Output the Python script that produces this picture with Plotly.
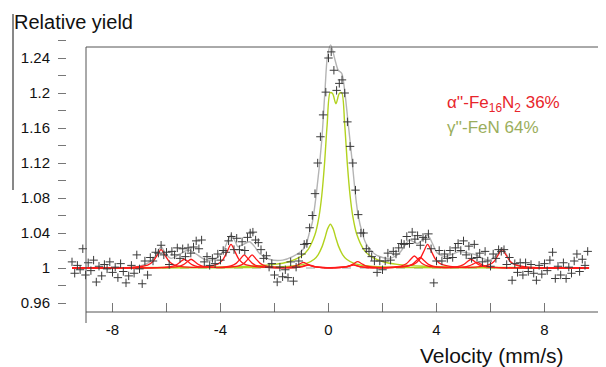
import plotly.graph_objects as go

# ---------------- data ----------------
velocity = [
    -9.5, -9.4, -9.3, -9.2, -9.1, -9.0, -8.9, -8.8, -8.7, -8.6,
    -8.5, -8.4, -8.3, -8.2, -8.1, -8.0, -7.9, -7.8, -7.7, -7.6,
    -7.5, -7.4, -7.3, -7.2, -7.1, -7.0, -6.9, -6.8, -6.7, -6.6,
    -6.5, -6.4, -6.3, -6.2, -6.1, -6.0, -5.9, -5.8, -5.7, -5.6,
    -5.5, -5.4, -5.3, -5.2, -5.1, -5.0, -4.9, -4.8, -4.7, -4.6,
    -4.5, -4.4, -4.3, -4.2, -4.1, -4.0, -3.9, -3.8, -3.7, -3.6,
    -3.5, -3.4, -3.3, -3.2, -3.1, -3.0, -2.9, -2.8, -2.7, -2.6,
    -2.5, -2.4, -2.3, -2.2, -2.1, -2.0, -1.9, -1.8, -1.7, -1.6,
    -1.5, -1.4, -1.3, -1.2, -1.1, -1.0, -0.9, -0.8, -0.7, -0.6,
    -0.5, -0.4, -0.3, -0.2, -0.1, 0.0, 0.1, 0.2, 0.3, 0.4,
    0.5, 0.6, 0.7, 0.8, 0.9, 1.0, 1.1, 1.2, 1.3, 1.4,
    1.5, 1.6, 1.7, 1.8, 1.9, 2.0, 2.1, 2.2, 2.3, 2.4,
    2.5, 2.6, 2.7, 2.8, 2.9, 3.0, 3.1, 3.2, 3.3, 3.4,
    3.5, 3.6, 3.7, 3.8, 3.9, 4.0, 4.1, 4.2, 4.3, 4.4,
    4.5, 4.6, 4.7, 4.8, 4.9, 5.0, 5.1, 5.2, 5.3, 5.4,
    5.5, 5.6, 5.7, 5.8, 5.9, 6.0, 6.1, 6.2, 6.3, 6.4,
    6.5, 6.6, 6.7, 6.8, 6.9, 7.0, 7.1, 7.2, 7.3, 7.4,
    7.5, 7.6, 7.7, 7.8, 7.9, 8.0, 8.1, 8.2, 8.3, 8.4,
    8.5, 8.6, 8.7, 8.8, 8.9, 9.0, 9.1, 9.2, 9.3, 9.4,
    9.5, 9.6,
]
measured_yield = [
    1.007, 0.994, 1.003, 0.998, 1.022, 0.992, 1.006, 0.997, 1.009, 0.984,
    1.002, 0.991, 1.004, 0.999, 1.007, 0.995, 1.001, 0.989, 1.005, 0.996,
    0.983, 0.991, 1.003, 0.994, 1.015, 0.999, 0.982, 1.008, 0.992, 1.012,
    1.008, 1.018, 1.017, 1.026, 1.015, 1.018, 1.004, 1.019, 1.015, 1.023,
    1.011, 1.022, 1.013, 1.023, 1.017, 1.024, 1.031, 1.022, 1.032, 1.007,
    1.013, 1.003, 1.011, 1.005, 1.016, 1.009, 1.020, 1.018, 1.031, 1.036,
    1.021, 1.034, 1.021, 1.030, 1.020, 1.035, 1.040, 1.041, 1.032, 1.029,
    1.021, 1.011, 1.014, 1.001, 1.005, 0.992, 0.984, 1.001, 0.990, 0.998,
    0.989, 1.007, 0.985, 1.001, 1.008, 1.016, 1.027, 1.028, 1.046, 1.060,
    1.085, 1.120, 1.150, 1.175, 1.201, 1.240, 1.247, 1.226, 1.203, 1.211,
    1.215, 1.200, 1.167, 1.139, 1.120, 1.089, 1.061, 1.040, 1.040, 1.022,
    1.019, 1.013, 1.008, 0.995, 1.008, 0.998, 1.008, 1.017, 1.009, 1.019,
    1.016, 1.023, 1.028, 1.027, 1.036, 1.028, 1.041, 1.033, 1.037, 1.026,
    1.035, 1.033, 1.039, 1.022, 0.983, 1.008, 1.020, 1.008, 1.016, 1.011,
    1.020, 1.012, 1.023, 1.028, 1.020, 1.031, 1.015, 1.025, 1.011, 1.027,
    1.012, 1.017, 1.007, 1.019, 1.008, 1.002, 1.016, 1.011, 1.021, 1.019,
    1.021, 1.004, 1.012, 0.986, 1.005, 0.995, 1.006, 0.992, 1.006, 0.996,
    1.004, 0.994, 0.986, 1.003, 0.993, 1.005, 0.997, 1.009, 1.018, 0.988,
    1.002, 0.992, 1.006, 0.988, 1.001, 0.994, 1.008, 1.016, 0.996, 1.010,
    1.003, 1.019,
]

# total fit (grey)
total_v = [-9.5, -8.0, -7.2, -6.8, -6.5, -6.35, -6.2, -6.05, -5.83, -5.5,
           -5.2, -4.95, -4.6, -4.35, -4.17, -3.9, -3.75, -3.61, -3.45, -3.36,
           -3.15, -2.93, -2.75, -2.56, -2.19, -1.70, -1.33, -0.96, -0.8, -0.71,
           -0.6, -0.45, -0.25, -0.13, -0.04, 0.08, 0.24, 0.36, 0.49, 0.61,
           0.73, 0.86, 1.0, 1.1, 1.25, 1.39, 1.76, 2.25, 2.62, 2.99,
           3.15, 3.3, 3.5, 3.67, 3.85, 4.04, 4.35, 4.6, 4.84, 5.21,
           5.46, 5.7, 5.96, 6.2, 6.43, 6.6, 6.75, 7.19, 7.6, 9.65]
total_y = [1.000, 1.000, 1.001, 1.004, 1.010, 1.017, 1.0244, 1.017, 1.011, 1.016,
           1.0206, 1.017, 1.010, 1.009, 1.011, 1.019, 1.030, 1.0377, 1.030, 1.0244,
           1.027, 1.030, 1.025, 1.0168, 1.010, 1.009, 1.013, 1.0206, 1.030, 1.040,
           1.052, 1.085, 1.146, 1.203, 1.2415, 1.255, 1.238, 1.226, 1.2225, 1.1996,
           1.165, 1.127, 1.083, 1.060, 1.040, 1.028, 1.015, 1.011, 1.0168, 1.032,
           1.030, 1.028, 1.033, 1.0377, 1.028, 1.0168, 1.013, 1.016, 1.0187, 1.0168,
           1.0149, 1.011, 1.009, 1.014, 1.023, 1.015, 1.007, 1.0015, 1.000, 1.000]

# alpha''-Fe16N2 sextets (red)
sextet1_v = [-9.5, -7.2, -6.7, -6.5, -6.35, -6.2, -6.05, -5.9, -5.7, -5.2,
             -4.61, -4.11, -3.91, -3.76, -3.61, -3.46, -3.31, -3.11, -2.61,
             -1.93, -1.43, -1.23, -1.08, -0.93, -0.78, -0.63, -0.43, 0.08,
             0.58, 0.78, 0.93, 1.08, 1.23, 1.38, 1.58, 2.08,
             2.67, 3.17, 3.37, 3.52, 3.67, 3.82, 3.97, 4.17, 4.67,
             5.43, 5.93, 6.13, 6.28, 6.43, 6.58, 6.73, 6.93, 7.43, 9.65]
sextet1_y = [1.0, 1.001, 1.0034, 1.0074, 1.0143, 1.021, 1.0143, 1.0074, 1.0034, 1.001,
             1.0012, 1.0044, 1.0095, 1.0184, 1.027, 1.0184, 1.0095, 1.0044, 1.0012,
             1.0003, 1.001, 1.0023, 1.0044, 1.0065, 1.0044, 1.0023, 1.001, 1.0003,
             1.0012, 1.0025, 1.0049, 1.0072, 1.0049, 1.0025, 1.0012, 1.0003,
             1.0012, 1.0044, 1.0095, 1.0184, 1.027, 1.0184, 1.0095, 1.0044, 1.0012,
             1.001, 1.0035, 1.0075, 1.0146, 1.0214, 1.0146, 1.0075, 1.0035, 1.001, 1.0]

sextet2_v = [-9.5, -6.34, -5.84, -5.64, -5.49, -5.34, -5.19, -5.04, -4.84, -4.34,
             -4.12, -3.62, -3.42, -3.27, -3.12, -2.97, -2.82, -2.62, -2.12,
             -1.78, -1.28, -1.08, -0.93, -0.78, -0.63, -0.48, -0.28, 0.08,
             0.44, 0.64, 0.79, 0.94, 1.09, 1.24, 1.44, 1.94,
             2.18, 2.68, 2.88, 3.03, 3.18, 3.33, 3.48, 3.68, 4.18,
             4.5, 5.0, 5.2, 5.35, 5.5, 5.65, 5.8, 6.0, 6.5, 9.65]
sextet2_y = [1.0, 1.0005, 1.0016, 1.0035, 1.0068, 1.010, 1.0068, 1.0035, 1.0016, 1.001,
             1.0007, 1.0024, 1.0053, 1.0102, 1.015, 1.0102, 1.0053, 1.0024, 1.0007,
             1.0002, 1.0006, 1.0012, 1.0024, 1.0035, 1.0024, 1.0012, 1.0006, 1.0002,
             1.0006, 1.0012, 1.0024, 1.0035, 1.0024, 1.0012, 1.0006, 1.0002,
             1.0006, 1.0022, 1.0048, 1.0094, 1.0137, 1.0094, 1.0048, 1.0022, 1.0006,
             1.0005, 1.001, 1.0023, 1.0044, 1.0065, 1.0044, 1.0023, 1.001, 1.0003, 1.0]

sextet3_v = [-9.5, -6.09, -5.59, -5.39, -5.24, -5.09, -4.94, -4.79, -4.59, -4.09,
             -3.83, -3.33, -3.13, -2.98, -2.83, -2.68, -2.53, -2.33, -1.83,
             -1.22, -1.02, -0.87, -0.72, -0.57, -0.42, -0.22, 0.10,
             0.41, 0.61, 0.76, 0.91, 1.06, 1.21, 1.41, 1.91,
             2.40, 2.90, 3.10, 3.25, 3.40, 3.55, 3.70, 3.90, 4.28,
             4.78, 4.98, 5.13, 5.28, 5.43, 5.58, 5.78, 6.28, 9.65]
sextet3_y = [1.0, 1.0005, 1.0016, 1.0035, 1.0068, 1.010, 1.0068, 1.0035, 1.0016, 1.0005,
             1.0007, 1.0024, 1.0053, 1.0102, 1.015, 1.0102, 1.0053, 1.0024, 1.0007,
             1.0006, 1.0012, 1.0024, 1.0035, 1.0024, 1.0012, 1.0006, 1.0002,
             1.0006, 1.0012, 1.0024, 1.0035, 1.0024, 1.0012, 1.0006, 1.0002,
             1.0006, 1.0019, 1.0042, 1.0082, 1.012, 1.0082, 1.0042, 1.0019, 1.0006,
             1.0016, 1.0035, 1.0068, 1.010, 1.0068, 1.0035, 1.0016, 1.0005, 1.0]

# gamma''-FeN components (green)
doublet_v = [-9.5, -6.0, -4.0, -3.0, -2.0, -1.5, -1.0, -0.75, -0.5, -0.35,
             -0.25, -0.15, -0.05, 0.06, 0.15, 0.275, 0.40, 0.49, 0.60, 0.70,
             0.80, 0.90, 1.05, 1.30, 1.55, 2.05, 2.55, 3.55, 4.55, 6.55, 9.65]
doublet_y = [1.0002, 1.0005, 1.0012, 1.0020, 1.0042, 1.0069, 1.0137, 1.0214, 1.0382, 1.0591,
             1.0826, 1.118, 1.1637, 1.2003, 1.1994, 1.1877, 1.1994, 1.2003, 1.1637, 1.118,
             1.0826, 1.0591, 1.0382, 1.0214, 1.0137, 1.0069, 1.0042, 1.0020, 1.0012, 1.0005, 1.0002]

singlet_v = [-9.5, -4.93, -2.93, -1.93, -1.23, -0.83, -0.53, -0.38, -0.23, -0.13,
             -0.03, 0.07, 0.17, 0.27, 0.37, 0.52, 0.67, 0.97, 1.37, 2.07,
             3.07, 5.07, 9.65]
singlet_y = [1.0001, 1.0002, 1.0005, 1.0011, 1.0025, 1.005, 1.010, 1.0154, 1.025, 1.0346,
             1.045, 1.050, 1.045, 1.0346, 1.025, 1.0154, 1.010, 1.005, 1.0025, 1.0011,
             1.0005, 1.0002, 1.0001]

baseline_v = [-9.5, 9.65]
baseline_y = [1.0, 1.0]

y_tick_vals = [0.96, 1.0, 1.04, 1.08, 1.12, 1.16, 1.2, 1.24]
y_tick_text = ["0.96", "1", "1.04", "1.08", "1.12", "1.16", "1.2", "1.24"]
y_minor_vals = [0.98, 1.02, 1.06, 1.10, 1.14, 1.18, 1.22, 1.26]
x_tick_vals = [-8, -4, 0, 4, 8]
x_tick_text = ["-8", "-4", "0", "4", "8"]
x_minor_vals = [-6, -2, 2, 6]

# ---------------- geometry (pixels of the target picture) ----------------
OFF = 8                                # page body margin shifts the figure by 8 px
W, H = 606 - OFF, 367 - OFF
X0_PX, V_PER_PX = 328.5, 1 / 27.0      # velocity 0 at x=328.5 px, 27 px per mm/s
Y1_PX, Y_PER_PX = 268.0, 1 / 875.0     # yield 1 at y=268 px
PLOT_L, PLOT_R, PLOT_T, PLOT_B = 60, 606, 36, 312


def px(x):
    return (x - OFF) / W


def py(y):
    return 1 - (y - OFF) / H


x_range = [(PLOT_L - X0_PX) * V_PER_PX, (PLOT_R - X0_PX) * V_PER_PX]
y_range = [1 - (PLOT_B - Y1_PX) * Y_PER_PX, 1 + (Y1_PX - PLOT_T) * Y_PER_PX]

RED = "#ff1a1a"
GREEN = "#b2d21e"
GREY = "#b4b4b4"
FONT = "Liberation Sans"

fig = go.Figure()
fig.add_trace(go.Scatter(x=baseline_v, y=baseline_y, mode="lines",
                         line=dict(color="#a0a0a0", width=1.2, dash="dash")))
fig.add_trace(go.Scatter(x=total_v, y=total_y, mode="lines",
                         line=dict(color=GREY, width=1.4, shape="spline", smoothing=0.8)))
for vv, yy in [(doublet_v, doublet_y), (singlet_v, singlet_y)]:
    fig.add_trace(go.Scatter(x=vv, y=yy, mode="lines",
                             line=dict(color=GREEN, width=1.4, shape="spline", smoothing=0.8)))
for vv, yy in [(sextet1_v, sextet1_y), (sextet2_v, sextet2_y), (sextet3_v, sextet3_y)]:
    fig.add_trace(go.Scatter(x=vv, y=yy, mode="lines",
                             line=dict(color=RED, width=1.3, shape="spline", smoothing=0.8)))
fig.add_trace(go.Scatter(x=velocity, y=measured_yield, mode="markers",
                         marker=dict(symbol="cross-thin", size=6,
                                     line=dict(width=1, color="#3a3a3a"))))

fig.update_layout(
    width=W, height=H, margin=dict(l=0, r=0, t=0, b=0),
    paper_bgcolor="white", plot_bgcolor="rgba(0,0,0,0)", showlegend=False,
    font=dict(family=FONT, size=15, color="#111"),
    xaxis=dict(domain=[px(PLOT_L), px(PLOT_R)], range=x_range,
               showgrid=False, zeroline=False, showline=False,
               tickvals=x_tick_vals, ticktext=x_tick_text,
               ticks="inside", ticklen=9, tickcolor="#777", tickwidth=1,
               ticklabelstandoff=7,
               minor=dict(tickvals=x_minor_vals, ticks="inside", ticklen=9,
                          tickcolor="#777", tickwidth=1),
               tickfont=dict(family=FONT, size=15, color="#111")),
    yaxis=dict(domain=[py(PLOT_B), py(PLOT_T)], range=y_range,
               anchor="free", position=px(66), side="left",
               showgrid=False, zeroline=False, showline=False,
               tickvals=y_tick_vals, ticktext=y_tick_text,
               ticks="outside", ticklen=8, tickcolor="#777", tickwidth=1,
               ticklabelstandoff=5,
               minor=dict(tickvals=y_minor_vals, ticks="outside", ticklen=8,
                          tickcolor="#777", tickwidth=1),
               tickfont=dict(family=FONT, size=15, color="#111")),
)

frame = dict(color="#555", width=1)
shapes = [
    dict(type="line", xref="paper", yref="paper", x0=px(86), x1=px(606), y0=py(47), y1=py(47), line=frame),
    dict(type="line", xref="paper", yref="paper", x0=px(86), x1=px(86), y0=py(47), y1=py(323), line=frame),
    dict(type="line", xref="paper", yref="paper", x0=px(86), x1=px(606), y0=py(312), y1=py(312), line=frame),
    dict(type="line", xref="paper", yref="paper", x0=px(13), x1=px(13), y0=py(14), y1=py(190),
         line=dict(color="#111", width=1)),
]
fig.update_layout(shapes=shapes)

annotations = [
    dict(text="Relative yield", x=px(12), y=py(22), xanchor="left", yanchor="middle",
         font=dict(family=FONT, size=20, color="#111")),
    dict(text="Velocity (mm/s)", x=px(418), y=py(355), xanchor="left", yanchor="middle",
         font=dict(family=FONT, size=21, color="#111")),
    dict(text="α''-Fe<sub>16</sub>N<sub>2</sub> 36%", x=px(445), y=py(104), xanchor="left",
         yanchor="middle", font=dict(family=FONT, size=17, color="#e8252b")),
    dict(text="γ''-FeN 64%", x=px(445), y=py(127), xanchor="left", yanchor="middle",
         font=dict(family=FONT, size=17, color="#9bae5c")),
]
for a in annotations:
    a.update(xref="paper", yref="paper", showarrow=False)
fig.update_layout(annotations=annotations)

fig.write_html("out.html")
